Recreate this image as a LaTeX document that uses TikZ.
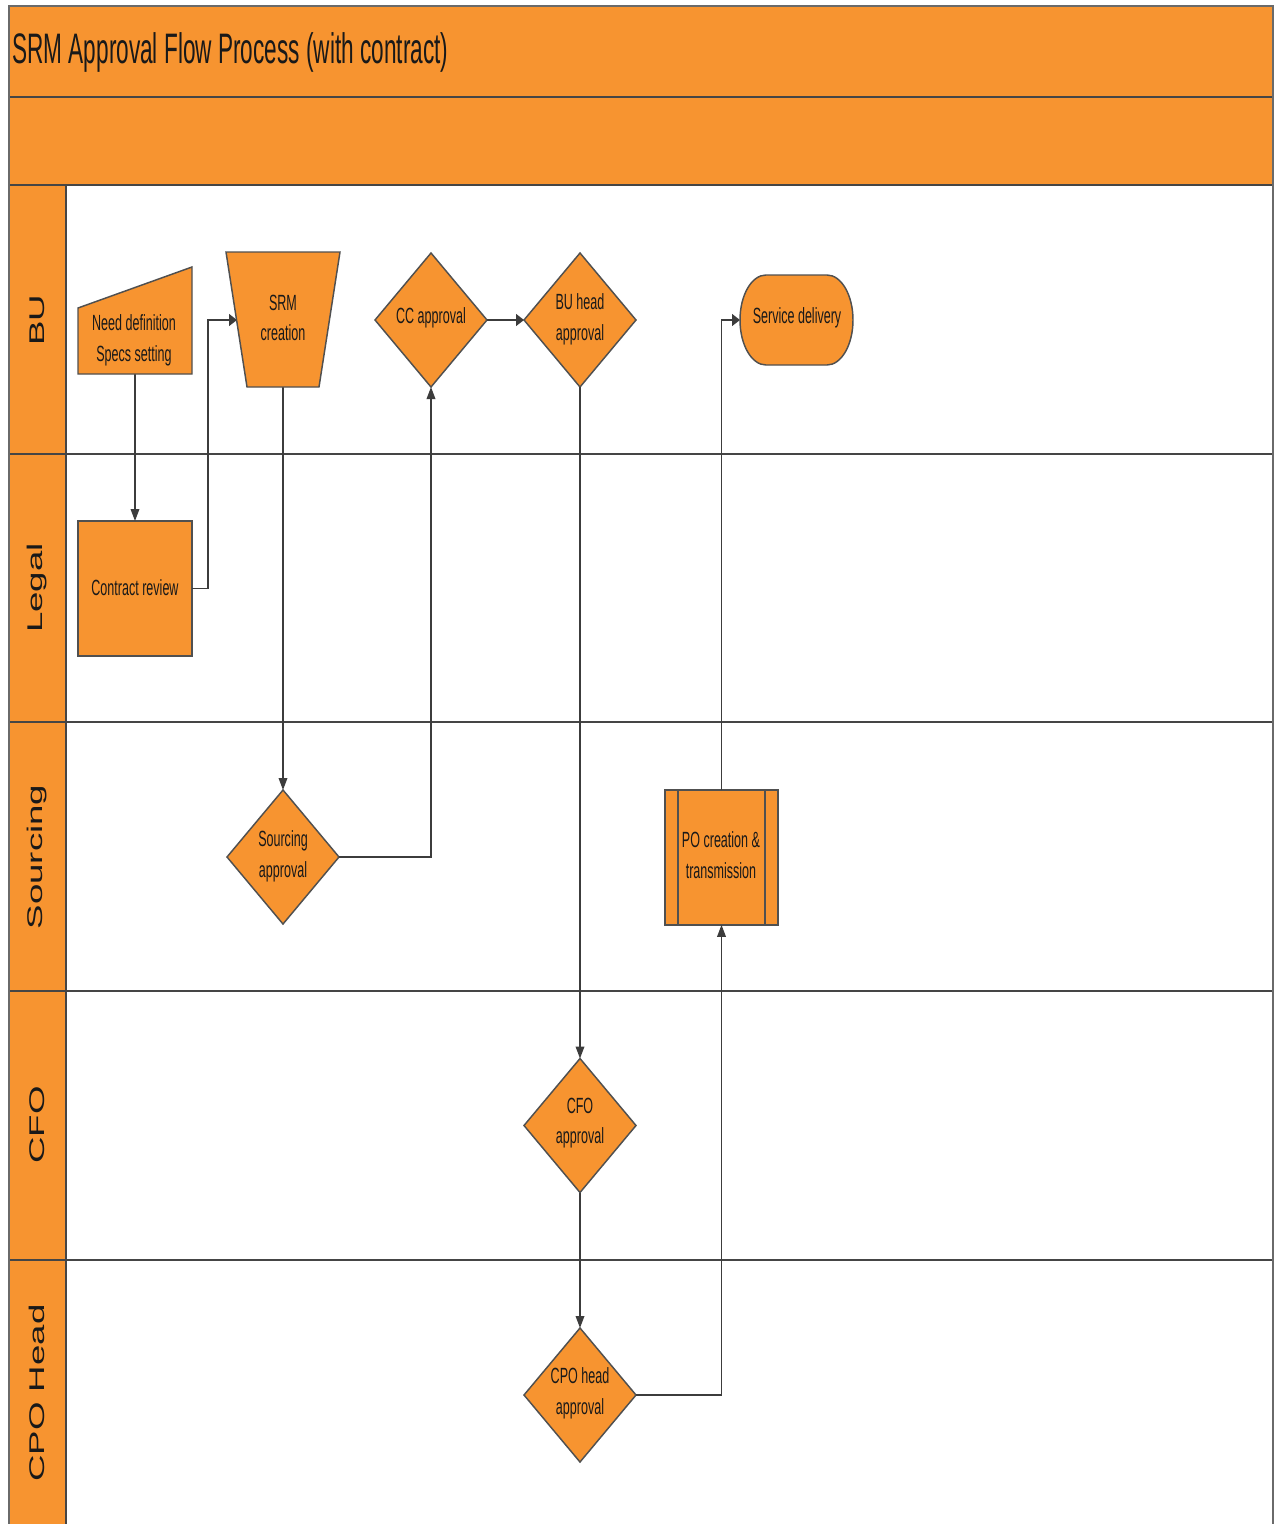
\documentclass[tikz,border=0pt]{standalone}
\usepackage{fontspec}
\setmainfont{Liberation Sans}
\newfontfamily\condfont[FakeStretch=0.57]{Liberation Sans}
\newfontfamily\titlefont[FakeStretch=0.53]{Liberation Sans}
\usetikzlibrary{arrows.meta,calc,shapes.geometric}
\definecolor{orng}{HTML}{F79430}
\definecolor{lanec}{HTML}{454545}
\definecolor{connc}{HTML}{3C3C3C}
\definecolor{edgec}{HTML}{505050}
\begin{document}
\begin{tikzpicture}[x=0.75pt,y=-0.75pt,
  shp/.style={fill=orng,draw=edgec,line width=1.1pt},
  ghost/.style={draw=none,inner sep=0pt,outer sep=0pt},
  txt/.style={font=\condfont\fontsize{16.5}{23}\selectfont,align=center,text=black!90,inner sep=0pt},
  dia/.style={shp,diamond,minimum width=84pt,minimum height=100.5pt,inner sep=0pt,outer sep=0pt},
  rbox/.style={shp,rectangle,minimum width=85pt,minimum height=101pt,inner sep=0pt,outer sep=0pt},
  conn/.style={draw=connc,line width=1pt},
  varr/.style={conn,-{Triangle[length=9pt,width=6.5pt]}},
  harr/.style={conn,-{Triangle[length=6pt,width=9pt]}},
  lanelbl/.style={rotate=90,font=\fontsize{27.5}{30}\selectfont,text=black!90,inner sep=0pt},
  sep/.style={draw=lanec,line width=2.2pt}
]
\useasboundingbox (0,0) rectangle (1280,1524);
% bands and lanes
\fill[white] (9,185) rectangle (1273,1524);
\fill[orng] (9,6) rectangle (1273,185);
\fill[orng] (9,185) rectangle (66,1524);
\draw[sep] (9,97) -- (1273,97);
\draw[sep] (9,185) -- (1273,185);
\foreach \yy in {454,722,991,1260} \draw[sep] (9,\yy) -- (1273,\yy);
\draw[sep] (66,185) -- (66,1524);
\draw[draw=lanec!80,line width=2pt] (9,1524) -- (9,6) -- (1273,6) -- (1273,1524);
% title
\node[anchor=base west,inner sep=0pt,font=\titlefont\fontsize{32}{36}\selectfont,text=black!90] (title) at (12,63) {SRM Approval Flow Process (with contract)};
% lane labels
\node[lanelbl] (lbu) at (37,320) {\scalebox{1}[0.58]{BU}};
\node[lanelbl] (llegal) at (37,588) {\scalebox{1}[0.58]{Legal}};
\node[lanelbl] (lsrc) at (37,857) {\scalebox{1}[0.58]{Sourcing}};
\node[lanelbl] (lcfo) at (37,1125) {\scalebox{1}[0.58]{CFO}};
\node[lanelbl] (lcpo) at (37,1393) {\scalebox{1}[0.58]{CPO Head}};
% shape placeholders
\node[ghost,minimum width=85.5pt,minimum height=80.25pt] (need) at (135,320.5) {};
\node[ghost,minimum width=85.5pt,minimum height=101.25pt] (srm) at (283,319.5) {};
\node[ghost,minimum width=84.75pt,minimum height=67.5pt] (svc) at (796.5,320) {};
\coordinate (srmin) at (237,320);
% nodes
\node[rbox,minimum width=85.5pt,minimum height=101.25pt] (cr) at (135,588.5) {};
\node[dia] (src) at (283,857) {};
\node[dia] (cc) at (431,320) {};
\node[dia] (buh) at (580,320) {};
\node[dia] (cfo) at (580,1125.5) {};
\node[dia] (cpo) at (580,1395) {};
\node[rbox] (po) at (721.5,857.5) {};
% connectors
\draw[varr] (need.south) -- (cr.north);
\draw[harr] (cr.east) -- ++(16,0) |- (srmin);
\draw[varr] (srm.south) -- (src.north);
\draw[varr] (src.east) -| (cc.south);
\draw[harr] (cc.east) -- (buh.west);
\draw[varr] (buh.south) -- (cfo.north);
\draw[varr] (cfo.south) -- (cpo.north);
\draw[varr] (cpo.east) -| (po.south);
\draw[harr] (po.north) |- (svc.west);
% custom shapes
\filldraw[shp] (need.south west) -- (need.south east) -- (need.north east) -- ($(need.north west)+(0,41)$) -- cycle;
\filldraw[shp] (srm.north west) -- (srm.north east) -- ($(srm.south east)+(-21,0)$) -- ($(srm.south west)+(21,0)$) -- cycle;
\filldraw[shp] ($(svc.north west)+(26,0)$) -- ($(svc.north east)+(-26,0)$)
  arc[start angle=90,end angle=-90,x radius=19.5pt,y radius=33.75pt]
  -- ($(svc.south west)+(26,0)$)
  arc[start angle=270,end angle=90,x radius=19.5pt,y radius=33.75pt] -- cycle;
\draw[draw=edgec,line width=1.1pt] ($(po.north west)+(13,0)$) -- ($(po.south west)+(13,0)$);
\draw[draw=edgec,line width=1.1pt] ($(po.north east)+(-13,0)$) -- ($(po.south east)+(-13,0)$);
% texts
\node[txt] (needt) at (134,340) {Need definition\\Specs setting};
\node[txt] (srmt) at (283,318) {SRM\\creation};
\node[txt] (cct) at (431,318) {CC approval};
\node[txt] (buht) at (580,319) {BU head\\approval};
\node[txt] (svct) at (797,318) {Service delivery};
\node[txt] (crt) at (135,588) {Contract review};
\node[txt] (srct) at (283,856) {Sourcing\\approval};
\node[txt] (pot) at (721,855) {PO creation \&\\transmission};
\node[txt] (cfot) at (580,1123) {CFO\\approval};
\node[txt] (cpot) at (580,1393) {CPO head\\approval};
\end{tikzpicture}
\end{document}
